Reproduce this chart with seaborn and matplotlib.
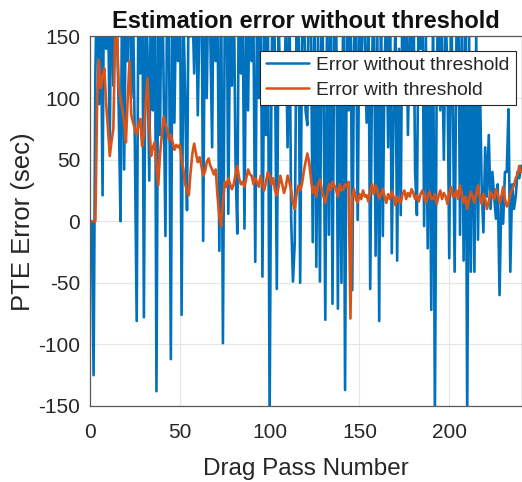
import numpy as np
import pandas as pd
import matplotlib
matplotlib.use("Agg")
import matplotlib.pyplot as plt
import seaborn as sns

# Drag pass index and PTE estimation error (seconds)
passes = list(range(241))

error_without_threshold = [
    0, 0, -125, 120, 210, 95, 180, 21, 250, 140,
    190, 60, 230, 110, 200, 160, 90, 0, 220, 42,
    180, 130, 240, 100, 170, 60, -81, 200, 120, 250,
    -78, 190, 140, 33, 210, 90, 260, -138, 180, 70,
    230, 110, -12, 200, 160, -112, 220, 80, 190, 130,
    240, -76, 170, 100, 9, 210, 150, 180, 120, 200,
    86, 170, 230, -16, 190, 100, 210, 150, 60, 240,
    130, 180, -24, 200, -99, 160, 220, 6, 170, 110,
    200, 50, -10, 230, 120, 170, -6, 190, 90, 210,
    130, 160, -33, 180, 100, 220, -45, 150, 70, 190,
    -160, 110, 200, 130, -55, 170, 96, 100, 95, 160,
    60, 190, 1, -49, -17, 170, 200, -50, 140, 210,
    90, 78, 230, 160, -17, 190, -37, 150, -49, 200,
    110, -80, 180, -11, 220, -67, 160, 190, -71, 130,
    -50, 200, -137, 170, 90, 220, -56, 140, 190, 1,
    170, 110, 200, 150, 80, 180, -55, 120, 210, -28,
    150, -81, 190, -12, 130, 170, 60, 200, -26, 90,
    160, -32, 140, 5, 210, 120, 180, 70, 160, 100,
    200, 40, 5, 190, 140, 210, -4, 150, -22, 130,
    -72, 180, -160, 110, 200, 90, 150, 50, 170, 120,
    -30, 180, 100, -41, 150, 200, -11, 170, -32, 190,
    -160, 160, -41, 130, -41, 150, -15, 120, 30, -9,
    60, 20, 70, 10, 40, 20, 2, 30, -60, 20,
    -2, 40, 40, 91, -41, 30, 10, 20, 40, 35,
    45,
]

error_with_threshold = [
    0, 0, 0, 0, 100, 131, 108, 118, 124, 95,
    75, 53, 65, 75, 150, 155, 108, 100, 91, 80,
    64, 100, 130, 86, 80, 75, 70, 78, 83, 61,
    70, 95, 116, 80, 53, 60, 64, 45, 29, 55,
    70, 85, 78, 75, 66, 70, 64, 58, 62, 60,
    62, 50, 42, 30, 25, 21, 40, 55, 63, 55,
    48, 52, 45, 37, 40, 48, 51, 45, 42, 38,
    42, 20, 4, -4, 15, 32, 28, 35, 30, 26,
    30, 38, 45, 35, 30, 32, 28, 35, 42, 38,
    37, 30, 35, 32, 28, 37, 30, 25, 32, 40,
    37, 30, 35, 25, 21, 28, 37, 30, 23, 28,
    37, 32, 25, 15, 10, 22, 29, 25, 30, 40,
    48, 55, 48, 35, 23, 28, 20, 30, 34, 26,
    20, 15, 22, 30, 25, 32, 29, 26, 20, 30,
    25, 26, 30, 28, 32, -79, 20, 26, 18, 15,
    22, 18, 25, 20, 21, 16, 24, 30, 22, 29,
    25, 18, 22, 26, 20, 15, 22, 18, 24, 20,
    13, 20, 16, 15, 22, 25, 18, 23, 20, 26,
    23, 18, 21, 16, 22, 25, 21, 15, 20, 24,
    18, 18, 22, 14, 20, 25, 18, 23, 20, 14,
    22, 28, 20, 20, 25, 18, 29, 22, 15, 20,
    10, 18, 24, 20, 15, 22, 29, 20, 14, 22,
    18, 10, 16, 24, 20, 18, 26, 22, 15, 20,
    28, 18, 12, 15, 22, 26, 29, 35, 38, 45,
    40,
]

series_names = ["Error without threshold", "Error with threshold"]
series_colors = ["#0072BD", "#D95319"]
x_ticks = [0, 50, 100, 150, 200]
y_ticks = [-150, -100, -50, 0, 50, 100, 150]

df = pd.DataFrame({
    "pass": passes * 2,
    "error": error_without_threshold + error_with_threshold,
    "series": [series_names[0]] * len(passes) + [series_names[1]] * len(passes),
})

sns.set_style("whitegrid")
plt.rcParams["font.family"] = ["Liberation Sans", "DejaVu Sans"]
plt.rcParams["axes.unicode_minus"] = False

fig = plt.figure(figsize=(5.22, 4.82), dpi=100)
ax = fig.add_axes([0.1724, 0.1577, 0.8276, 0.7666])

sns.lineplot(data=df, x="pass", y="error", hue="series",
             palette=dict(zip(series_names, series_colors)),
             linewidth=1.9, ax=ax, legend=True, estimator=None, sort=False)

ax.set_xlim(0, 240.5)
ax.set_ylim(-150, 150)
ax.set_xticks(x_ticks)
ax.set_yticks(y_ticks)
ax.tick_params(axis="both", labelsize=15, colors="#262626", direction="in",
               length=4, width=0.8, labelcolor="#262626")
ax.tick_params(axis="x", pad=12)
ax.tick_params(axis="y", pad=7)
ax.grid(True, color="#e6e6e6", linewidth=0.8)
for side, sp in ax.spines.items():
    sp.set_color("#5a5a5a")
    sp.set_linewidth(0.9)

ax.set_xlabel("Drag Pass Number", fontsize=17.5, color="#262626", labelpad=12)
ax.set_ylabel("PTE Error (sec)", fontsize=18.5, color="#262626", labelpad=2)
ax.set_title("Estimation error without threshold", fontsize=17,
             fontweight="bold", color="#111111", pad=6)

leg = ax.legend(loc="upper right", fontsize=13.9, frameon=True, fancybox=False,
                framealpha=1, edgecolor="#262626", handlelength=2.2,
                borderpad=0.3, labelspacing=0.4, handletextpad=0.4,
                borderaxespad=0.0, bbox_to_anchor=(0.985, 0.962))
leg.get_frame().set_linewidth(0.8)
for line in leg.get_lines():
    line.set_linewidth(1.8)

fig.savefig("out.png", dpi=100)
